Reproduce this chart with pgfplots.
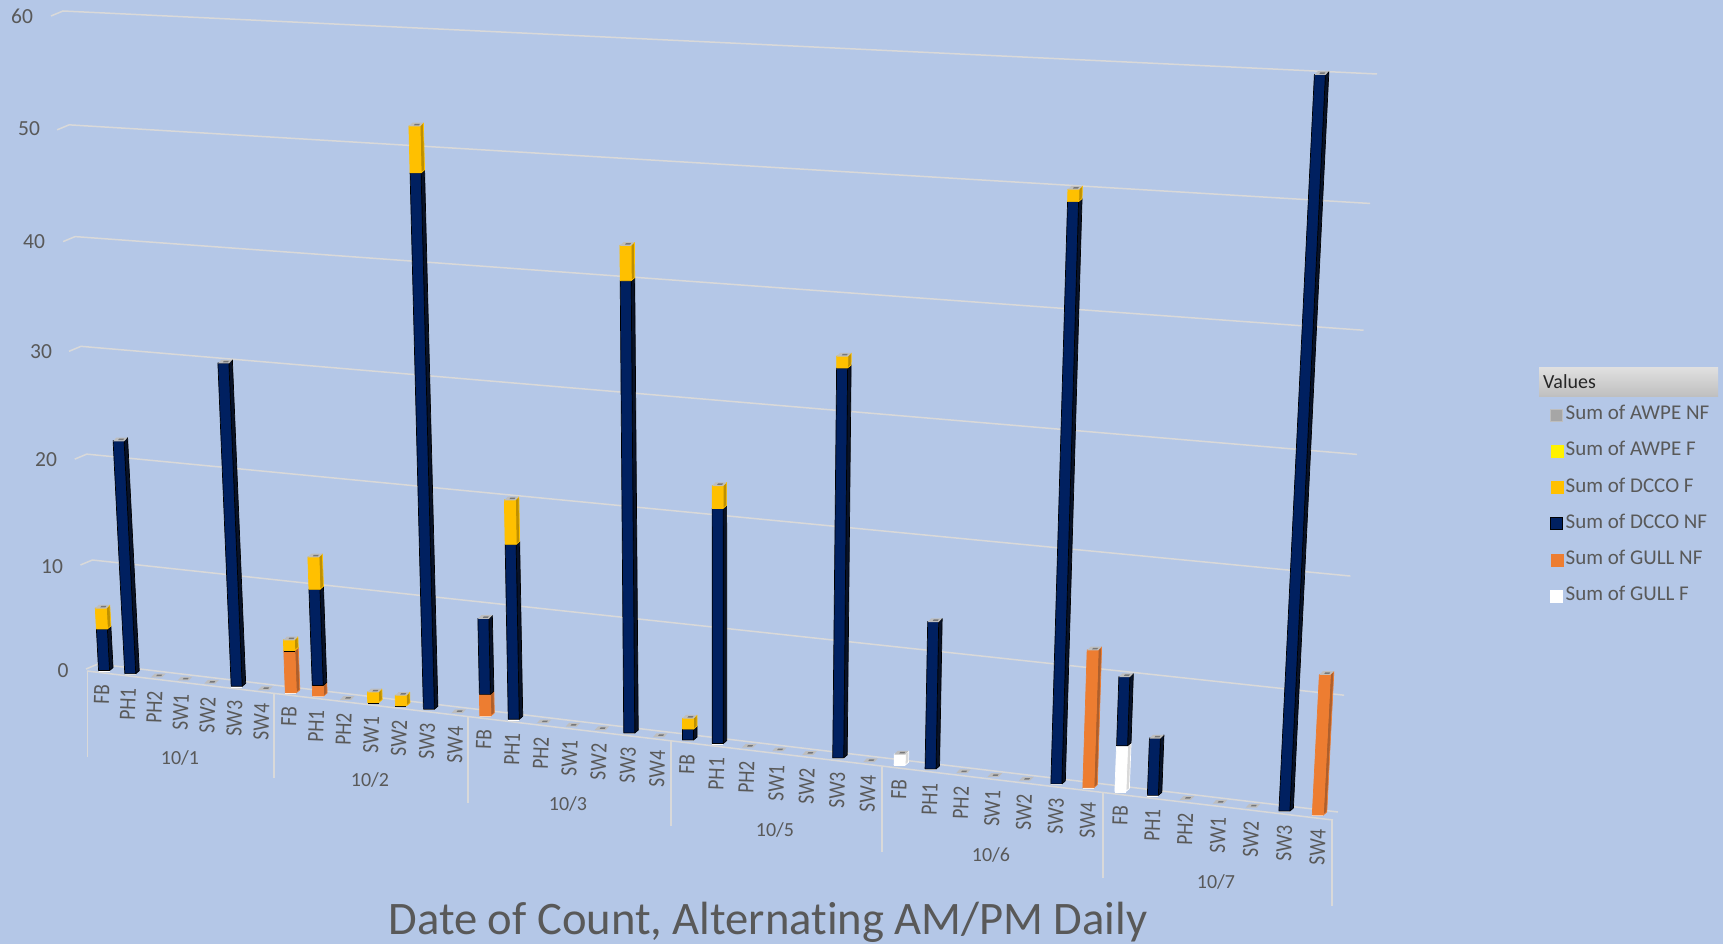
\documentclass[border=0pt]{standalone}
\usepackage{fontspec}
\setmainfont[Ligatures=NoCommon]{Carlito}
\usepackage{pgfplots}
\usepackage{pgfplotstable}
\pgfplotsset{compat=1.18}
\definecolor{bgc}{HTML}{B4C7E7}
\definecolor{gridc}{HTML}{D9D9D9}
\definecolor{txtc}{HTML}{595959}
\definecolor{navyF}{HTML}{002060}
\definecolor{navyS}{HTML}{081228}
\definecolor{yelF}{HTML}{FFC000}
\definecolor{yelS}{HTML}{BF9000}
\definecolor{orF}{HTML}{ED7D31}
\definecolor{orS}{HTML}{AE5F2C}
\definecolor{whS}{HTML}{D9D9D9}
\definecolor{capO}{HTML}{BEBEBE}
\definecolor{capI}{HTML}{787878}

% one row per category; values are stacked in the order gf, gn, dn, df
\pgfplotstableread{
i label gf gn dn df af an
0 FB 0 0 4 2 0 0
1 PH1 0 0 22 0 0 0
2 PH2 0 0 0 0 0 0
3 SW1 0 0 0 0 0 0
4 SW2 0 0 0 0 0 0
5 SW3 0 0 30 0 0 0
6 SW4 0 0 0 0 0 0
7 FB 0 4 0 1 0 0
8 PH1 0 1 9 3 0 0
9 PH2 0 0 0 0 0 0
10 SW1 0 0 0 1 0 0
11 SW2 0 0 0 1 0 0
12 SW3 0 0 48 4 0 0
13 SW4 0 0 0 0 0 0
14 FB 0 2 7 0 0 0
15 PH1 0 0 16 4 0 0
16 PH2 0 0 0 0 0 0
17 SW1 0 0 0 0 0 0
18 SW2 0 0 0 0 0 0
19 SW3 0 0 40 3 0 0
20 SW4 0 0 0 0 0 0
21 FB 0 0 1 1 0 0
22 PH1 0 0 21 2 0 0
23 PH2 0 0 0 0 0 0
24 SW1 0 0 0 0 0 0
25 SW2 0 0 0 0 0 0
26 SW3 0 0 34 1 0 0
27 SW4 0 0 0 0 0 0
28 FB 1 0 0 0 0 0
29 PH1 0 0 13 0 0 0
30 PH2 0 0 0 0 0 0
31 SW1 0 0 0 0 0 0
32 SW2 0 0 0 0 0 0
33 SW3 0 0 49 1 0 0
34 SW4 0 12 0 0 0 0
35 FB 4 0 6 0 0 0
36 PH1 0 0 5 0 0 0
37 PH2 0 0 0 0 0 0
38 SW1 0 0 0 0 0 0
39 SW2 0 0 0 0 0 0
40 SW3 0 0 60 0 0 0
41 SW4 0 12 0 0 0 0
}\bars

% perspective of the chart's wall: s in 0..1 along the categories, t=value/60
\pgfmathdeclarefunction{HD}{2}{\pgfmathparse{1-0.11968*#1-0.05276*#2}}
\pgfmathdeclarefunction{HX}{2}{\pgfmathparse{(1079.87*#1-38.32*#2+98)/HD(#1,#2)}}
\pgfmathdeclarefunction{HY}{2}{\pgfmathparse{(50.82*#1-653.58*#2+664)/HD(#1,#2)}}

% a polygon of one bar: #1 category, #2 options, #3 rows "value dx dy"
\newcommand\poly[3]{%
  \addplot[forget plot,#2] table[row sep=\\,
    x expr={HX((#1+0.5)/42,\thisrow{v}/60)-7+3.5*(#1+0.5)/42+\thisrow{ox}},
    y expr={HY((#1+0.5)/42,\thisrow{v}/60)+5-2*\thisrow{v}/60+\thisrow{oy}}]
    {v ox oy\\ #3};%
}
% one stacked segment: #1 category, #2 from, #3 to, #4 front, #5 side, #6 edge
\newcommand\seg[6]{%
  \poly{#1}{fill=#5,draw=#6,line width=0.7pt,line join=round}{#2 5.5 0\\ #2 9 -3\\ #3 9 -3\\ #3 5.5 0\\ #2 5.5 0\\}%
  \poly{#1}{fill=#4,draw=#6,line width=0.7pt,line join=round}{#2 -5.5 0\\ #2 5.5 0\\ #3 5.5 0\\ #3 -5.5 0\\ #2 -5.5 0\\}%
}
\newcommand\capface[2]{%
  \poly{#1}{fill=capO,draw=none}{#2 -5.5 0.5\\ #2 5.5 0.5\\ #2 9 -3.2\\ #2 -2 -3.2\\ #2 -5.5 0.5\\}%
  \poly{#1}{fill=capI,draw=none}{#2 -0.5 -0.6\\ #2 4.5 -0.6\\ #2 5.5 -2.1\\ #2 0.5 -2.1\\ #2 -0.5 -0.6\\}%
}
% whole stack: #1 category, #2..#5 the four values, #6..#9 their running sums
\newcommand\stackbar[9]{%
  \ifnum#9>0\relax
    \poly{#1}{draw=white,line width=1.2pt}{0 -5.5 0.6\\ 0 5.5 0.6\\}%
    \ifnum#2>0\relax \seg{#1}{0}{#6}{white}{whS}{white}\fi
    \ifnum#3>0\relax \seg{#1}{#6}{#7}{orF}{orS}{orF}\fi
    \ifnum#4>0\relax \seg{#1}{#7}{#8}{navyF}{navyS}{black}\fi
    \ifnum#5>0\relax
      \ifnum#4=0\relax \poly{#1}{draw=black,line width=1.3pt}{#8 -5.5 0.5\\ #8 5.5 0.5\\}\fi
      \seg{#1}{#8}{#9}{yelF}{yelS}{yelF}%
    \fi
  \fi
  \capface{#1}{#9}%
}

\begin{document}
\begin{tikzpicture}
\begin{axis}[
  at={(0,0)}, anchor=south west,
  scale only axis, width=1723pt, height=944pt,
  xmin=0, xmax=1723, ymin=0, ymax=944, y dir=reverse,
  axis line style={draw=none}, xtick=\empty, ytick=\empty,
  axis background/.style={fill=bgc},
  legend image code/.code={\path[#1] (0pt,-6pt) rectangle (12pt,6pt);},
  legend cell align=left,
  legend style={at={(axis cs:1547,403.5)}, anchor=north west, draw=none, fill=none,
    font=\fontsize{21}{23}\selectfont, text=txtc, row sep=17.2pt,
    nodes={inner ysep=0pt, inner xsep=2.5pt, text height=14pt, text depth=5pt}},
]
% gridlines: value levels of the wall
\pgfplotsinvokeforeach{0,10,20,30,40,50,60}{%
  \addplot[forget plot,draw=gridc,line width=1.5pt] table[row sep=\\,
     x expr={HX(\thisrow{s},#1/60)+\thisrow{ox}},
     y expr={HY(\thisrow{s},#1/60)+\thisrow{oy}}]
     {s ox oy\\ 0 -12 5\\ 0 0 0\\ 1 0 0\\};
}
% floor front edge and group separators
\addplot[forget plot,draw=gridc,line width=1.5pt] coordinates {(87,671) (1333,820)};
\addplot[forget plot,draw=gridc,line width=1.5pt,unbounded coords=jump] table[row sep=\\] {
x y\\ 87.5 671\\ 87.5 757\\ nan nan\\ 274 693\\ 274 778\\ nan nan\\ 468 717\\ 468 803\\ nan nan\\
671 741\\ 671 826\\ nan nan\\ 882 767\\ 882 852\\ nan nan\\ 1103 793\\ 1103 878\\ nan nan\\ 1332 820\\ 1332 906\\
};
% bars
\pgfplotsforeachungrouped \rw in {0,...,41}{%
  \pgfplotstablegetelem{\rw}{gf}\of\bars\pgfmathtruncatemacro\vA{\pgfplotsretval}%
  \pgfplotstablegetelem{\rw}{gn}\of\bars\pgfmathtruncatemacro\vB{\pgfplotsretval}%
  \pgfplotstablegetelem{\rw}{dn}\of\bars\pgfmathtruncatemacro\vC{\pgfplotsretval}%
  \pgfplotstablegetelem{\rw}{df}\of\bars\pgfmathtruncatemacro\vD{\pgfplotsretval}%
  \pgfmathtruncatemacro\sA{\vA}%
  \pgfmathtruncatemacro\sB{\vA+\vB}%
  \pgfmathtruncatemacro\sC{\vA+\vB+\vC}%
  \pgfmathtruncatemacro\sD{\vA+\vB+\vC+\vD}%
  \edef\doit{\noexpand\stackbar{\rw}{\vA}{\vB}{\vC}{\vD}{\sA}{\sB}{\sC}{\sD}}\doit
}
% category labels
\addplot[forget plot,only marks,mark=none,point meta=explicit symbolic,
  nodes near coords={\scalebox{1}[1.2]{\pgfplotspointmeta}},
  nodes near coords style={rotate=88,anchor=east,inner sep=0pt,text=txtc,
    font=\fontsize{19.5}{21}\selectfont}]
  table[x expr={HX((\thisrow{i}+0.5)/42,0)-9+6*(\thisrow{i}+0.5)/42},
        y expr={HY((\thisrow{i}+0.5)/42,0)+19},
        meta=label] {\bars};
% value labels and date labels
\newcommand\lab[4][20]{\node[text=txtc,font=\fontsize{#1}{24}\selectfont,inner sep=0pt] at (axis cs:#2,#3) {#4};}
\lab[21.5]{63}{671}{0}\lab[21.5]{52}{567}{10}\lab[21.5]{46}{460}{20}\lab[21.5]{41}{352}{30}\lab[21.5]{34}{242}{40}\lab[21.5]{29}{129}{50}\lab[21.5]{22}{16}{60}
\lab{180}{758}{10/1}\lab{370}{780}{10/2}\lab{568}{804}{10/3}\lab{775}{830}{10/5}\lab{991}{855}{10/6}\lab{1216}{882}{10/7}
\node[text=txtc,font=\fontsize{46.6}{50}\selectfont,inner sep=0pt] at (axis cs:768,922) {Date of Count, Alternating AM/PM Daily};
% legend header
\path[top color=black!12,bottom color=black!25,draw=none] (axis cs:1539,367) rectangle (axis cs:1718,396);
\node[anchor=west,text=black!85,font=\fontsize{20}{22}\selectfont,inner sep=0pt] at (axis cs:1543,382) {Values};
% legend
\addlegendimage{fill=black!35,draw=capO,line width=1pt}\addlegendentry{Sum of AWPE NF}
\addlegendimage{fill=yellow,draw=yellow}\addlegendentry{Sum of AWPE F}
\addlegendimage{fill=yelF,draw=yelF}\addlegendentry{Sum of DCCO F}
\addlegendimage{fill=navyF,draw=black,line width=1pt}\addlegendentry{Sum of DCCO NF}
\addlegendimage{fill=orF,draw=orF}\addlegendentry{Sum of GULL NF}
\addlegendimage{fill=white,draw=white,line width=1pt}\addlegendentry{Sum of GULL F}
\end{axis}
\end{tikzpicture}
\end{document}
